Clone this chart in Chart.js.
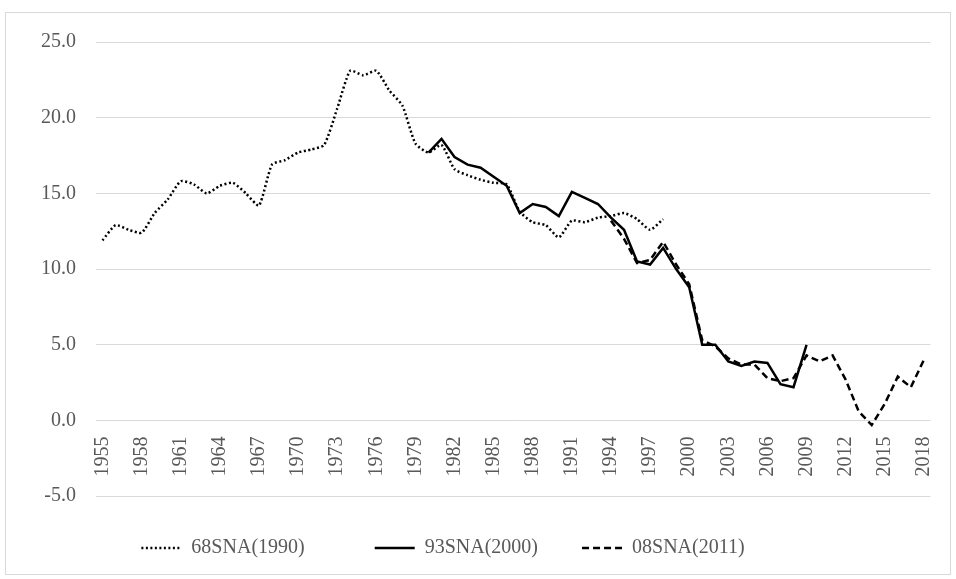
<!DOCTYPE html>
<html>
<head>
<meta charset="utf-8">
<script src="https://cdn.jsdelivr.net/npm/chart.js@4.4.1/dist/chart.umd.min.js"></script>
<style>
  html, body { margin: 0; padding: 0; background: #fff; }
  #frame { position: absolute; left: 5px; top: 12px; width: 946px; height: 563px; border: 1px solid #d9d9d9; box-sizing: border-box; }
  #wrap { position: absolute; left: 0; top: 0; width: 956px; height: 579px; }
</style>
</head>
<body>
<div id="frame"></div>
<div id="wrap"><canvas id="chart"></canvas></div>
<script>
// years on the category axis
const years = [];
for (let y = 1955; y <= 2018; y++) years.push(String(y));

// 68SNA (1990 base), 1955-1998
const sna68 = [11.9, 12.9, 12.6, 12.4, 13.7, 14.6, 15.8, 15.6, 15.0, 15.5,
  15.7, 15.0, 14.2, 16.9, 17.2, 17.7, 17.9, 18.2, 20.6, 23.1,
  22.8, 23.1, 21.8, 20.8, 18.3, 17.7, 18.2, 16.6, 16.2, 15.9,
  15.7, 15.6, 13.8, 13.1, 12.9, 12.1, 13.2, 13.1, 13.4, 13.5,
  13.7, 13.3, 12.6, 13.3];

// 93SNA (2000 base), 1980-2009
const sna93 = [17.7, 18.6, 17.4, 16.9, 16.7, 16.1, 15.5, 13.7, 14.3, 14.1,
  13.5, 15.1, 14.7, 14.3, 13.4, 12.6, 10.5, 10.3, 11.4, 10.0,
  8.8, 5.0, 5.0, 3.9, 3.6, 3.9, 3.8, 2.4, 2.2, 5.0];

// 08SNA (2011 base), 1994-2018
const sna08 = [13.2, 12.0, 10.4, 10.6, 11.8, 10.3, 9.0, 5.3, 4.9, 4.1,
  3.7, 3.7, 2.8, 2.6, 2.8, 4.3, 3.9, 4.3, 2.7, 0.6,
  -0.3, 1.1, 2.9, 2.2, 4.0];

const seriesNames = ['68SNA(1990)', '93SNA(2000)', '08SNA(2011)'];

function place(values, startYear) {
  return years.map((y) => {
    const i = Number(y) - startYear;
    return (i >= 0 && i < values.length) ? values[i] : null;
  });
}

const labelFont = { family: "'Liberation Serif', 'DejaVu Serif', serif", size: 20 };
// spacing after each legend entry
const gaps = ['\u2003\u2003\u2003', '\u2003\u2002\u2009', '\u2003\u2003\u2003\u2003\u2009'];

const ctx = document.getElementById('chart');
const myChart = new Chart(ctx, {
  type: 'line',
  data: {
    labels: years,
    datasets: [{
      label: seriesNames[0],
      data: place(sna68, 1955),
      borderColor: '#000',
      borderWidth: 2.5,
      borderDash: [2, 2.5],
      pointRadius: 0,
      tension: 0.2
    }, {
      label: seriesNames[1],
      data: place(sna93, 1980),
      borderColor: '#000',
      borderWidth: 2.5,
      pointRadius: 0
    }, {
      label: seriesNames[2],
      data: place(sna08, 1994),
      borderColor: '#000',
      borderWidth: 2.5,
      borderDash: [7, 4],
      pointRadius: 0
    }]
  },
  options: {
    responsive: true,
    maintainAspectRatio: false,
    animation: false,
    layout: { padding: { top: 42, left: 30, right: 16, bottom: 11 } },
    plugins: {
      tooltip: { enabled: false },
      legend: {
        position: 'bottom',
        title: { display: true, text: '', padding: 0, font: { size: 26.5 } },
        labels: {
          font: labelFont,
          color: '#595959',
          usePointStyle: true,
          pointStyle: 'line',
          pointStyleWidth: 40,
          padding: 10,
          generateLabels(chart) {
            const items = Chart.defaults.plugins.legend.labels.generateLabels(chart);
            items.forEach((it, i) => {
              const ds = chart.data.datasets[it.datasetIndex];
              it.text = it.text + gaps[i];
              it.lineWidth = 2.5;
              it.lineDash = ds.borderDash || [];
              it.strokeStyle = '#000';
            });
            return items;
          }
        }
      }
    },
    scales: {
      x: {
        position: { y: 0 },
        offset: true,
        grid: { display: false },
        border: { display: false },
        ticks: {
          autoSkip: false,
          minRotation: 90,
          maxRotation: 90,
          padding: 8,
          color: '#595959',
          font: labelFont,
          callback: function (val, index) {
            return index % 3 === 0 ? this.getLabelForValue(val) : null;
          }
        }
      },
      y: {
        min: -5,
        max: 25,
        afterFit(scale) { scale.width = 66; },
        grid: { color: '#d9d9d9', lineWidth: 1, drawTicks: false },
        border: { display: false },
        ticks: {
          stepSize: 5,
          padding: 20,
          color: '#595959',
          font: labelFont,
          callback: (v) => v.toFixed(1)
        }
      }
    }
  }
});
</script>
</body>
</html>
